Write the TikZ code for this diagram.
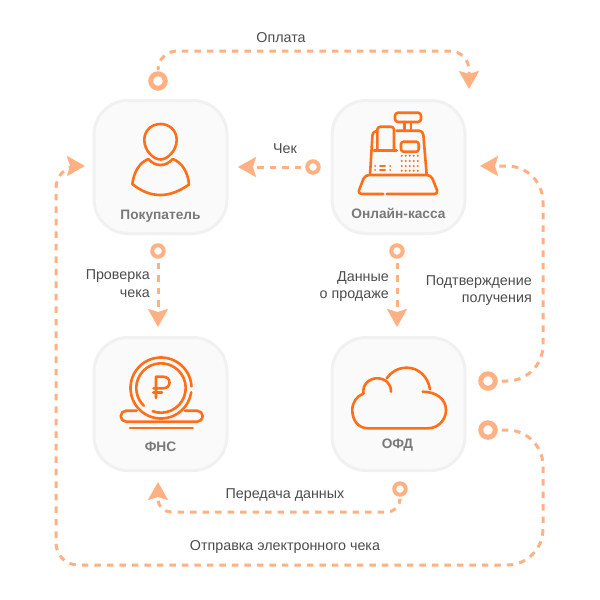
\documentclass[tikz,border=0pt]{standalone}
\usepackage{fontspec}
\setmainfont{Liberation Sans}
\usepackage{xcolor}
\definecolor{myflow}{RGB}{255, 177, 131}
\definecolor{myicon}{RGB}{255, 111, 26}
\definecolor{mybox}{RGB}{250, 250, 250}
\definecolor{myedge}{RGB}{241, 241, 241}
\usetikzlibrary{
    arrows.meta,
    positioning
}
\begin{document}
\begin{tikzpicture}[
  x=1pt, y=-1pt,
  node distance=101pt and 102pt,
  box/.style={draw=myedge, fill=mybox, line width=3pt, rounded corners=34pt, minimum size=133pt, inner sep=0pt},
  boxlabel/.style={font=\fontsize{13.7}{15}\selectfont\bfseries, text=gray!95!black, inner sep=0pt},
  label/.style={font=\fontsize{14.3}{17.5}\selectfont, text=black!70, inner sep=0pt},
  ringbig/.style={circle, draw=myflow, fill=white, line width=5pt, minimum size=14.5pt, inner sep=0pt},
  ringsmall/.style={circle, draw=myflow, fill=white, line width=4pt, minimum size=11.5pt, inner sep=0pt},
  flow/.style={draw=myflow, line width=3pt, dash pattern=on 6.5pt off 6pt, shorten <=4pt,
    -{Stealth[length=18pt, width=20pt, inset=3pt]}},
  icon/.style={draw=myicon, line width=2.6pt, line cap=round, line join=round}
]
\useasboundingbox (0,0) rectangle (600,600);

\node[box] (buyer) at (160.5,167) {};
\node[box, right=of buyer] (cash) {};
\node[box, below=of buyer] (fns) {};
\node[box, below=of cash] (ofd) {};

\node[boxlabel, above=12pt of buyer.south] (buyerlabel) {Покупатель};
\node[boxlabel, above=16pt of cash.south] (cashlabel) {Онлайн-касса};
\node[boxlabel, above=20.5pt of fns.south] (fnslabel) {ФНС};
\node[boxlabel, xshift=-1pt, above=20.5pt of ofd.south] (ofdlabel) {ОФД};

\node[ringbig] (ringpay) at (158,81) {};
\node[ringsmall] (ringcheck) at (313,167) {};
\node[ringsmall] (ringverify) at (158,251) {};
\node[ringsmall] (ringdata) at (397,251) {};
\node[ringbig] (ringack) at (488,381) {};
\node[ringbig] (ringsend) at (488,430) {};
\node[ringsmall] (ringpass) at (400,489) {};

\coordinate (tippay) at (469,89);
\coordinate (tipcheck) at (238,167);
\coordinate (tipverify) at (158,327);
\coordinate (tipdata) at (397,327);
\coordinate (tipack) at (480,166);
\coordinate (tipsend) at (85,166);
\coordinate (tippass) at (158,482);

\draw[flow, rounded corners=19pt] (ringpay) -- ++(0,-30) -| (tippay);
\draw[flow] (ringcheck) -- (tipcheck);
\draw[flow] (ringverify) -- (tipverify);
\draw[flow] (ringdata) -- (tipdata);
\draw[flow, rounded corners=36pt] (ringack) -- ++(55,0) |- (tipack);
\draw[flow, rounded corners=36pt] (ringsend) -- ++(55,0) -- ++(0,135)
  [rounded corners=22pt] -- ++(-487,0) |- (tipsend);
\draw[flow, rounded corners=13pt] (ringpass) |- (tippass |- 0,512) -- (tippass);

\node[label] (paylabel) at (281,38) {Оплата};
\node[label] (checklabel) at (285,149) {Чек};
\node[label, align=right, left=8pt of ringverify.center, anchor=north east, yshift=-18.5pt] (verifylabel) {Проверка\\чека};
\node[label, align=right, anchor=north east] (datalabel) at (389,271) {Данные\\о продаже};
\node[label, align=right, anchor=north east] (acklabel) at (532,275) {Подтверждение\\получения};
\node[label] (passlabel) at (285,495) {Передача данных};
\node[label] (sendlabel) at (285,547) {Отправка электронного чека};

\draw[icon] (160.5,124) .. controls (170,124) and (176.7,131) .. (176.7,140)
  .. controls (176.7,150) and (168,159.5) .. (160.5,159.5)
  .. controls (153,159.5) and (144.3,150) .. (144.3,140)
  .. controls (144.3,131) and (151,124) .. (160.5,124) -- cycle;
\draw[icon] (148.3,159) .. controls (152,163) and (156,165) .. (160.5,165)
  .. controls (165,165) and (169,163) .. (172.7,159)
  .. controls (182,162.5) and (188,172) .. (189,184.5)
  .. controls (180,191) and (170,195) .. (160.5,195)
  .. controls (150,195) and (141,191) .. (132.3,184)
  .. controls (134,172) and (139,163) .. (148.3,159) -- cycle;

\draw[icon, rounded corners=3pt] (395,112.7) rectangle (421,122);
\draw[icon] (404.3,122) -- (404.3,130.7) (411,122) -- (411,130.7);
\draw[icon, rounded corners=4pt] (370,175) -- (372.7,131) -- (377.3,131);
\draw[icon, rounded corners=4pt] (396.7,130.7) -- (423,130.7) -- (426.7,175);
\draw[icon, rounded corners=3pt] (377.3,150) -- (377.3,126.7) -- (394,126.7) -- (394,150);
\draw[icon] (374,150.7) -- (396.7,150.7);
\draw[icon, rounded corners=2.5pt] (401,141.7) rectangle (418.7,151.7);
\foreach \dotx in {401.7,405.7,...,418} {
  \foreach \doty in {155.7,161,166,170.7} {
    \fill[myicon] (\dotx,\doty) circle (1.1pt);
  }
}
\foreach \doty in {165.7,170} {
  \draw[icon, line width=2pt] (375,\doty) -- (375.1,\doty) (380,\doty) -- (385,\doty) (390,\doty) -- (390.1,\doty);
}
\draw[icon, rounded corners=4pt] (383.3,194) -- (357.5,194) -- (365,175) -- (431,175) -- (438.5,194) -- (386.7,194);

\draw[icon] (161,388) ++(-3:30.5) arc[start angle=-3, end angle=-352, radius=30.5];
\draw[icon] (161,388) ++(-250:24.7) arc[start angle=-250, end angle=-586, radius=24.7];
\draw[icon] (156,398) -- (156,376.7) -- (163,376.7) .. controls (167,376.7) and (169.5,379) .. (169.5,382.5)
  .. controls (169.5,386) and (167,388.3) .. (163,388.3) -- (153.5,388.3);
\draw[icon] (153.3,392.7) -- (162,392.7);
\draw[icon, rounded corners=5.5pt] (136.7,410.7) -- (120.7,410.7) -- (120.7,421.7) -- (202.7,421.7) -- (202.7,410.7) -- (185,410.7);
\draw[icon] (130,428) -- (192.7,428);

\draw[icon] (391,391.7) .. controls (391,383) and (385,378.3) .. (376.7,378.3)
  .. controls (369,378.3) and (362,385) .. (363.5,393.5)
  .. controls (357,396) and (352.3,402) .. (352.3,410)
  .. controls (352.3,420) and (358,428.3) .. (368,428.3) -- (428,428.3)
  .. controls (438,428.3) and (446,420) .. (446,410)
  .. controls (446,399) and (436,391.7) .. (422.7,391.7);
\draw[icon] (386.7,378.3) .. controls (391,372) and (398,367.7) .. (406.7,367.7)
  .. controls (419,367.7) and (428,377) .. (430,389.3);

\end{tikzpicture}
\end{document}
